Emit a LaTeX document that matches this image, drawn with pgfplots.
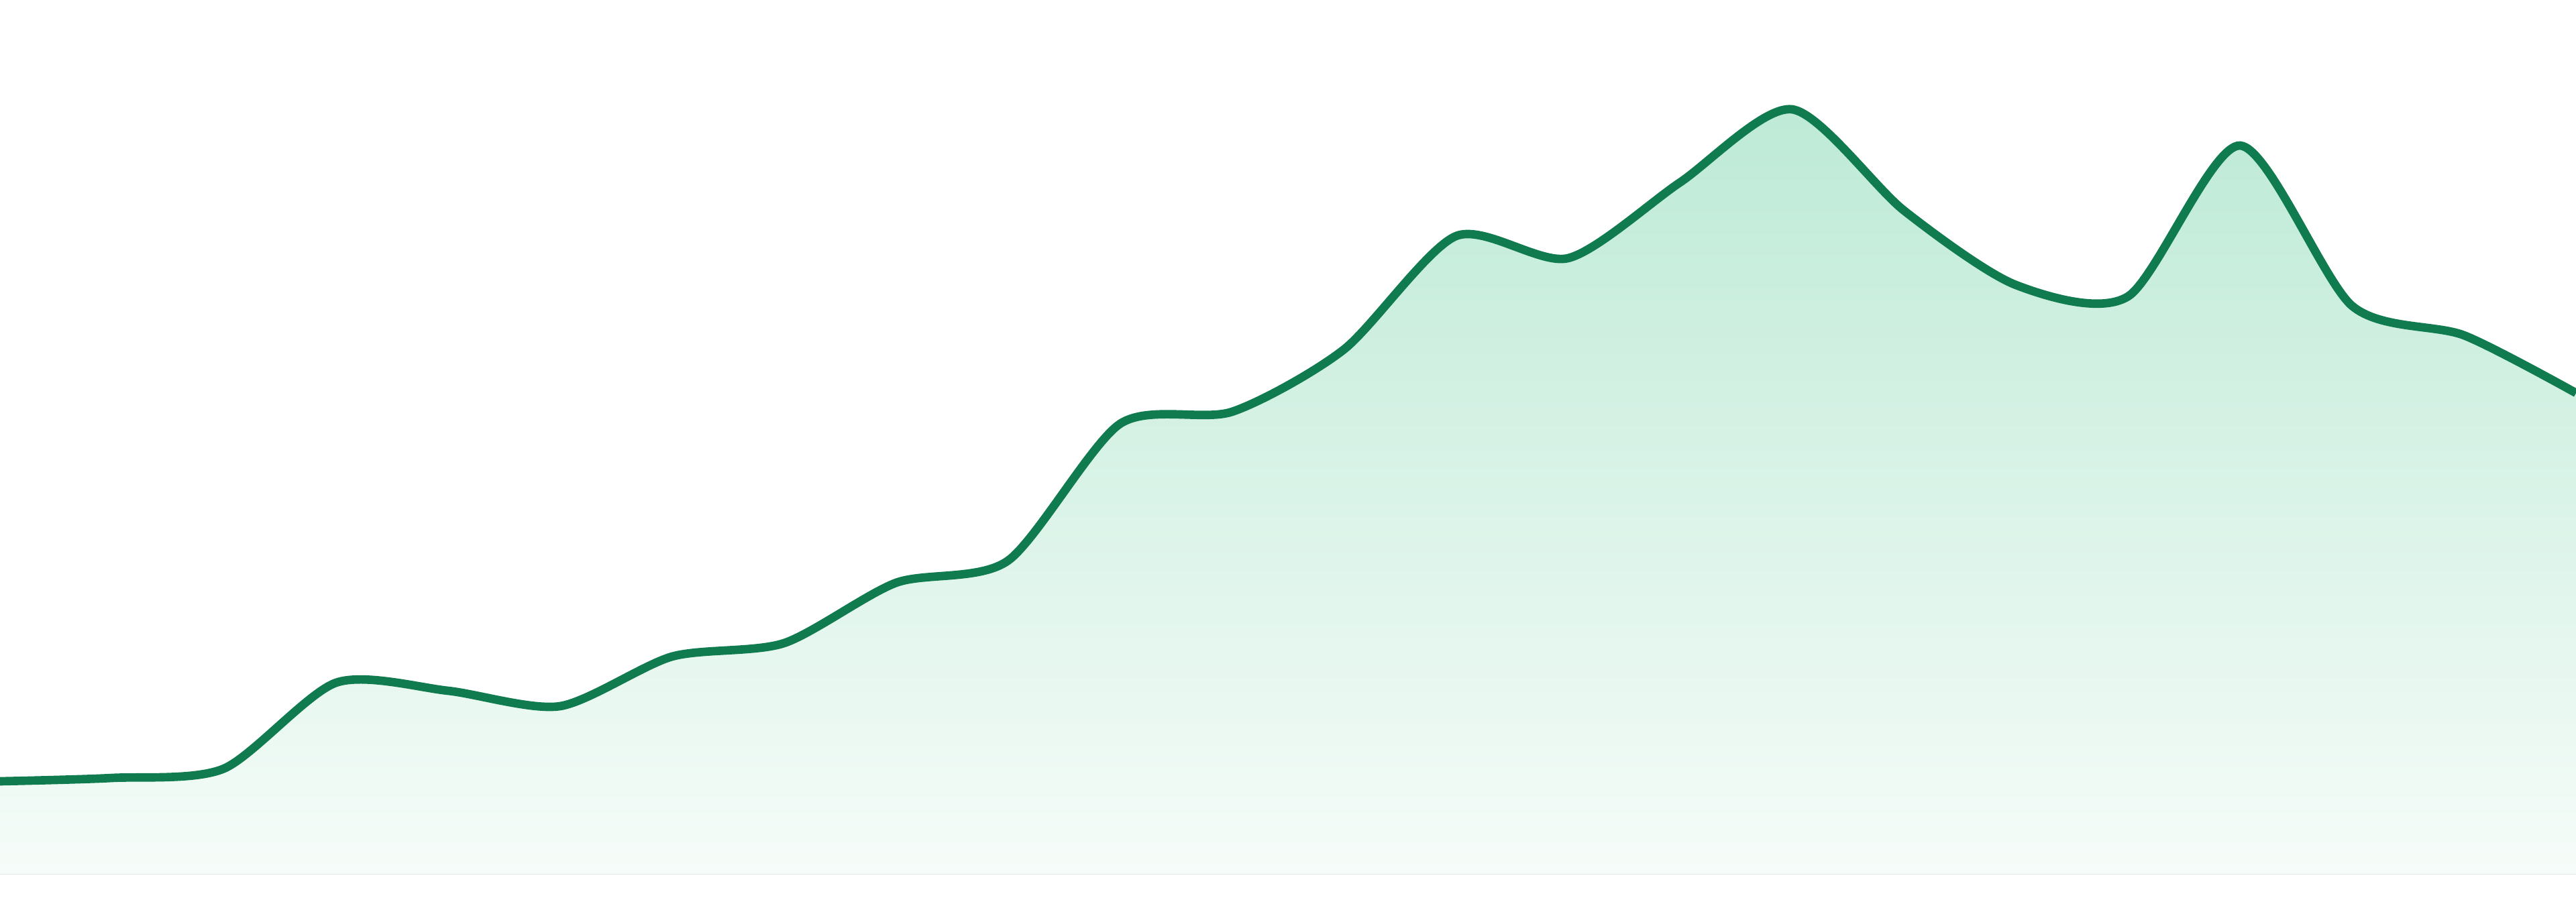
\documentclass[border=0pt]{standalone}
\usepackage{pgfplots}
\pgfplotsset{compat=1.18}
\usepgfplotslibrary{fillbetween}

\definecolor{linegreen}{RGB}{17,123,80}
\definecolor{filltop}{RGB}{189,234,214}
\definecolor{fillbot}{RGB}{246,252,249}

\begin{document}
\begin{tikzpicture}
\begin{axis}[
    width=19.2cm, height=6.72cm,
    scale only axis,
    hide axis,
    xmin=0, xmax=23,
    ymin=-41, ymax=1303,
    clip=true,
]
\addplot[draw=none, smooth, tension=0.45, name path=curve] coordinates {
    (0,138) (1,143) (2,157) (3,285) (4,273) (5,250) (6,324) (7,344)
    (8,434) (9,467) (10,671) (11,689) (12,782) (13,951) (14,918) (15,1031)
    (16,1140) (17,989) (18,878) (19,861) (20,1086) (21,847) (22,803) (23,717)
};
\addplot[draw=none, name path=base] coordinates {(0,0) (23,0)};
\addplot[top color=filltop, bottom color=fillbot, draw=none] fill between[of=curve and base];
\addplot[linegreen, line width=1.8pt, smooth, tension=0.45] coordinates {
    (0,138) (1,143) (2,157) (3,285) (4,273) (5,250) (6,324) (7,344)
    (8,434) (9,467) (10,671) (11,689) (12,782) (13,951) (14,918) (15,1031)
    (16,1140) (17,989) (18,878) (19,861) (20,1086) (21,847) (22,803) (23,717)
};
\end{axis}
\pgfresetboundingbox
\path (current axis.south west) rectangle (current axis.north east);
\end{tikzpicture}
\end{document}
